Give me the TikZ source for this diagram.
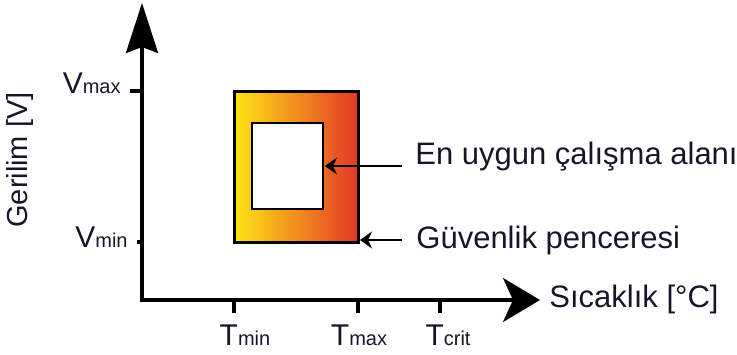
\documentclass[tikz,border=0pt]{standalone}
\usepackage{fontspec}
\setmainfont{Liberation Sans}
\usetikzlibrary{arrows.meta}

\definecolor{yazi}{HTML}{16162A}
\definecolor{sari}{RGB}{255,228,20}
\definecolor{turuncu}{RGB}{245,165,35}
\definecolor{kirmizi}{RGB}{228,55,40}

% buyuk harf + kucuk indis (ayni taban cizgisi)
\newcommand{\etiket}[2]{{\fontsize{15}{16}\selectfont #1}{\fontsize{10}{11}\selectfont #2}}

\tikzset{
  eksen/.style={line width=1.6pt, line join=miter},
  cetik/.style={line width=1.6pt},
  ok/.style={line width=1pt, -{Stealth[length=6pt, width=8.5pt, inset=2pt]}},
  buyuk/.style={font=\fontsize{15.5}{17}\selectfont},
}

\begin{document}
\begin{tikzpicture}[x=0.5pt, y=-0.5pt,
    every node/.style={text=yazi, font=\fontsize{14}{16}\selectfont, inner sep=0pt}]
    \useasboundingbox (0,0) rectangle (737,354);

    % eksenler
    \coordinate (O) at (142,300);
    \coordinate (ytip) at (142,3);
    \coordinate (xtip) at (540,300);
    \draw[eksen, {Stealth[length=25pt, width=16pt, inset=3pt]}-{Stealth[length=18.5pt, width=22pt, inset=5pt]}]
        (ytip) -- (O) -- (xtip);
    \node[buyuk, anchor=base west] (sicaklik) at (549,307) {Sıcaklık [°C]};
    \node[rotate=90, font=\fontsize{14.5}{16}\selectfont] (gerilim) at (20,160) {Gerilim [V]};

    % cetikler
    \draw[cetik] (130,91) -- (142,91);
    \draw[cetik] (137,242) -- (142,242);
    \foreach \x in {234,358,440}
        \draw[cetik] (\x,300) -- (\x,313);

    \node[anchor=base east] (vmax) at (121,93) {\etiket{V}{max}};
    \node[anchor=base east] (vmin) at (128,247) {\etiket{V}{min}};
    \node[anchor=base] (tmin) at (245,345) {\etiket{T}{min}};
    \node[anchor=base] (tmax) at (359,345) {\etiket{T}{max}};
    \node[anchor=base] (tcrit) at (448,345) {\etiket{T}{crit}};

    % guvenlik penceresi ve en uygun alan
    \shade[left color=sari, middle color=turuncu, right color=kirmizi]
        (234,91) rectangle (358,242);
    \draw[line width=1.5pt] (234,91) rectangle (358,242);
    \draw[line width=1.25pt, fill=white] (252,123) rectangle (323,209);
    \coordinate (ickutu) at (325,166);
    \coordinate (diskutu) at (360,240);

    % aciklamalar
    \node[buyuk, anchor=base west] (uygun) at (415,164) {En uygun çalışma alanı};
    \node[buyuk, anchor=base west] (guvenlik) at (416,248) {Güvenlik penceresi};
    \draw[ok] ([shift={(-13,2)}]uygun.base west) -- (ickutu);
    \draw[ok] ([shift={(-14,-8)}]guvenlik.base west) -- (diskutu);
\end{tikzpicture}
\end{document}
